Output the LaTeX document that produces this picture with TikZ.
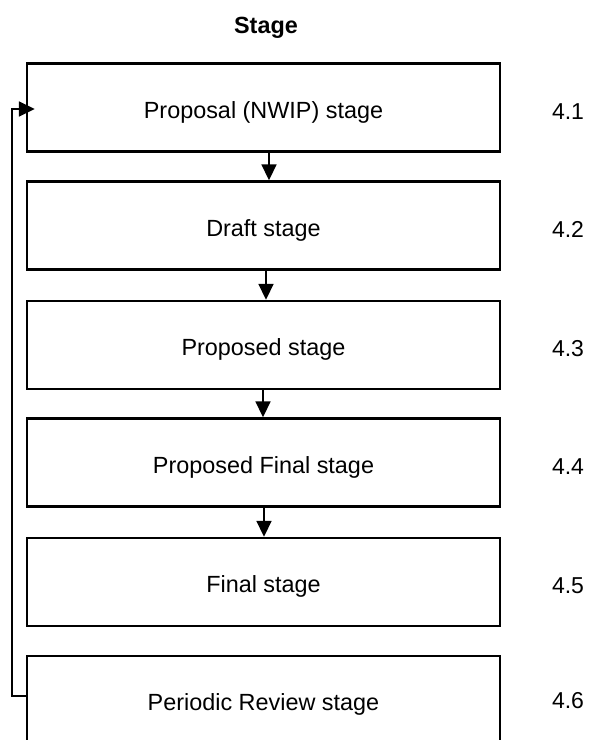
\documentclass[tikz,border=0pt]{standalone}
\usepackage{fontspec}
\setmainfont{Liberation Sans}
\usetikzlibrary{arrows.meta}
\begin{document}
\begin{tikzpicture}[x=1pt,y=-1pt,
  stagebox/.style={draw, line width=2.4pt, minimum width=473pt, minimum height=88pt, inner sep=0pt, text height=22pt, text depth=1pt, font=\fontsize{23.4}{28}\selectfont},
  num/.style={font=\fontsize{23}{28}\selectfont, inner sep=0pt, anchor=base},
  conn/.style={line width=1.8pt},
  arr/.style={conn, -{Triangle[length=16pt,width=15pt]}}]
\useasboundingbox (0,0) rectangle (592,740);
\clip (0,0) rectangle (592,740);
\node[font=\bfseries\fontsize{23.4}{28}\selectfont, anchor=base] (title) at (266,33) {Stage};
\node[stagebox] (b1) at (263.5,107.5) {Proposal (NWIP) stage};
\node[stagebox] (b2) at (263.5,225.5) {Draft stage};
\node[stagebox] (b3) at (263.5,345) {Proposed stage};
\node[stagebox] (b4) at (263.5,462.5) {Proposed Final stage};
\node[stagebox] (b5) at (263.5,582) {Final stage};
\node[stagebox] (b6) at (263.5,700) {Periodic Review stage};
\node[num] (n1) at (568,119) {4.1};
\node[num] (n2) at (568,237) {4.2};
\node[num] (n3) at (568,356.5) {4.3};
\node[num] (n4) at (568,474) {4.4};
\node[num] (n5) at (568,593.5) {4.5};
\node[num] (n6) at (568,708) {4.6};
\draw[arr] ([xshift=5.5pt]b1.south) -- ([xshift=5.5pt]b2.north);
\draw[arr] ([xshift=2.5pt]b2.south) -- ([xshift=2.5pt]b3.north);
\draw[arr] ([xshift=-0.5pt]b3.south) -- ([xshift=-0.5pt]b4.north);
\draw[arr] ([xshift=0.5pt]b4.south) -- ([xshift=0.5pt]b5.north);
\coordinate (fb) at (12,696);
\draw[arr, shorten >=-9pt] (b6.west |- fb) -- (fb) |- ([yshift=-1.5pt]b1.west);
\end{tikzpicture}
\end{document}
